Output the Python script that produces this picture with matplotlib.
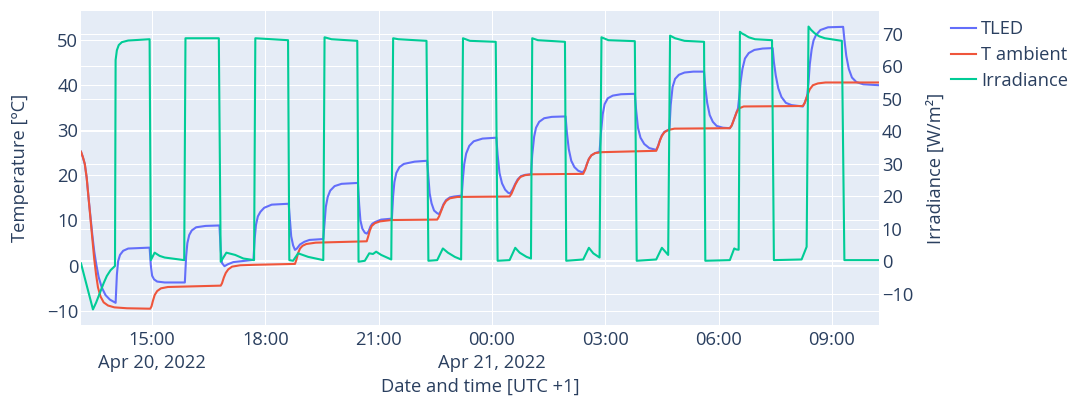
import matplotlib
matplotlib.use("Agg")
import matplotlib.pyplot as plt
import matplotlib.dates as mdates
from matplotlib.ticker import FuncFormatter
import pandas as pd

# ---------------------------------------------------------------- data
D1, D2 = "2022-04-20 ", "2022-04-21 "

tled_time = [D1 + t for t in [
    "13:07", "13:10", "13:13", "13:16", "13:19", "13:22",
    "13:25", "13:28", "13:31", "13:35", "13:40", "13:46",
    "13:53", "14:02", "14:04", "14:06", "14:09", "14:14",
    "14:22", "14:56", "14:58", "15:00", "15:03", "15:08",
    "15:20", "15:52", "15:54", "15:56", "15:59", "16:03",
    "16:10", "16:25", "16:47", "16:49", "16:51", "16:55",
    "17:00", "17:09", "17:41", "17:43", "17:45", "17:48",
    "17:52", "17:58", "18:10", "18:37", "18:39", "18:41",
    "18:44", "18:47", "18:50", "18:55", "19:02", "19:10",
    "19:32", "19:34", "19:36", "19:39", "19:43", "19:50",
    "20:01", "20:27", "20:29", "20:31", "20:34", "20:38",
    "20:41", "20:44", "20:47", "20:50", "20:55", "21:04",
    "21:21", "21:23", "21:25", "21:28", "21:33", "21:40",
    "21:57", "22:17", "22:19", "22:21", "22:24", "22:28",
    "22:33", "22:36", "22:39", "22:43", "22:47", "22:53",
    "23:00", "23:12", "23:14", "23:16", "23:19", "23:24",
    "23:31", "23:45"]] + [D2 + t for t in [
    "00:07", "00:09", "00:12", "00:16",
    "00:21", "00:26", "00:29", "00:33", "00:37", "00:41",
    "00:46", "00:53", "01:02", "01:04", "01:07", "01:10",
    "01:15", "01:23", "01:35", "01:57", "01:59", "02:02",
    "02:06", "02:11", "02:17", "02:24", "02:28", "02:31",
    "02:34", "02:38", "02:44", "02:51", "02:53", "02:56",
    "02:59", "03:04", "03:12", "03:25", "03:47", "03:49",
    "03:52", "03:56", "04:02", "04:10", "04:21", "04:24",
    "04:27", "04:30", "04:34", "04:40", "04:42", "04:44",
    "04:47", "04:51", "04:57", "05:06", "05:20", "05:37",
    "05:39", "05:42", "05:46", "05:51", "05:57", "06:07",
    "06:18", "06:21", "06:25", "06:29", "06:31", "06:33",
    "06:35", "06:38", "06:42", "06:48", "06:57", "07:10",
    "07:26", "07:28", "07:31", "07:35", "07:40", "07:47",
    "07:56", "08:14", "08:17", "08:21", "08:23", "08:25",
    "08:28", "08:31", "08:35", "08:42", "08:54", "09:18",
    "09:20", "09:23", "09:27", "09:32", "09:39", "09:50",
    "10:15"]]
tled = [
    25.2, 24.0, 22.5, 19.5, 15.0, 10.8,
    6.8, 3.2, 0.5, -2.5, -4.8, -6.5,
    -7.5, -8.2, -2.0, 1.0, 2.4, 3.3,
    3.8, 4.0, 0.0, -2.2, -3.0, -3.5,
    -3.7, -3.7, 2.0, 5.0, 6.8, 7.8,
    8.5, 8.8, 8.9, 3.5, 0.6, -0.1,
    0.3, 0.8, 1.3, 6.0, 9.0, 10.9,
    11.9, 12.8, 13.5, 13.7, 10.0, 6.5,
    4.5, 3.5, 3.8, 4.7, 5.3, 5.7,
    5.9, 9.5, 13.0, 15.2, 16.6, 17.6,
    18.1, 18.3, 13.5, 10.0, 8.2, 7.3,
    7.1, 7.6, 8.7, 9.3, 9.7, 10.2,
    10.4, 15.5, 18.5, 20.5, 21.8, 22.5,
    23.0, 23.2, 19.5, 16.0, 13.8, 12.2,
    11.6, 11.4, 12.2, 13.6, 14.5, 15.1,
    15.3, 15.5, 19.5, 22.5, 24.8, 26.5,
    27.5, 28.1, 28.3, 24.5, 20.5, 18.2,
    16.8, 16.1, 16.0, 16.9, 18.1, 19.1,
    19.8, 20.1, 20.2, 24.5, 28.5, 30.5,
    31.8, 32.6, 32.9, 33.0, 29.5, 25.8,
    23.2, 21.8, 21.0, 20.6, 21.3, 22.5,
    23.6, 24.4, 24.9, 25.2, 29.0, 33.5,
    35.7, 37.0, 37.6, 37.9, 38.0, 34.5,
    30.5, 28.3, 26.9, 26.0, 25.6, 26.5,
    27.8, 28.8, 29.6, 30.0, 30.2, 35.5,
    39.5, 41.3, 42.2, 42.7, 42.9, 42.9,
    39.5, 36.0, 33.3, 31.8, 30.9, 30.5,
    30.4, 31.0, 32.5, 34.0, 34.8, 37.5,
    40.5, 43.5, 45.8, 47.0, 47.7, 48.0,
    48.1, 45.0, 42.0, 39.2, 37.3, 36.0,
    35.5, 35.2, 36.0, 37.6, 40.5, 44.5,
    47.8, 49.8, 51.0, 52.1, 52.7, 52.8,
    50.0, 46.4, 43.5, 41.6, 40.6, 40.1,
    39.9,
]

ambient_time = [D1 + t for t in [
    "13:07", "13:10", "13:13", "13:16", "13:19", "13:22",
    "13:25", "13:28", "13:31", "13:34", "13:38", "13:43",
    "13:50", "14:00", "14:20", "14:57", "14:59", "15:01",
    "15:04", "15:08", "15:14", "15:25", "16:49", "16:51",
    "16:54", "16:57", "17:01", "17:07", "17:20", "17:41",
    "18:47", "18:49", "18:52", "18:55", "18:59", "19:05",
    "19:20", "20:41", "20:43", "20:46", "20:49", "20:54",
    "21:02", "21:20", "22:33", "22:36", "22:39", "22:43",
    "22:47", "22:53", "23:05"]] + [D2 + t for t in [
    "00:28", "00:31", "00:34",
    "00:37", "00:41", "00:45", "00:52", "01:03", "02:25",
    "02:28", "02:31", "02:34", "02:38", "02:44", "02:55",
    "04:21", "04:24", "04:27", "04:30", "04:34", "04:40",
    "04:50", "06:18", "06:21", "06:25", "06:29", "06:33",
    "06:40", "08:14", "08:17", "08:21", "08:25", "08:30",
    "08:38", "08:50", "10:15"]]
ambient = [
    25.2, 24.0, 22.5, 19.5, 15.0, 10.5,
    6.0, 1.5, -2.0, -4.8, -6.8, -8.1,
    -8.8, -9.2, -9.4, -9.5, -9.0, -7.9,
    -6.5, -5.6, -5.0, -4.7, -4.4, -3.9,
    -2.6, -1.6, -0.8, -0.2, 0.1, 0.2,
    0.4, 1.2, 2.8, 3.8, 4.4, 4.8,
    5.1, 5.4, 6.3, 7.8, 8.8, 9.4,
    9.8, 10.1, 10.2, 10.9, 12.0, 13.4,
    14.3, 14.9, 15.2, 15.3, 15.9, 16.9,
    17.9, 18.9, 19.6, 20.0, 20.2, 20.3,
    21.2, 22.5, 23.6, 24.4, 24.9, 25.1,
    25.4, 26.4, 27.7, 28.7, 29.5, 30.0,
    30.3, 30.4, 31.0, 32.5, 34.0, 34.8,
    35.2, 35.3, 36.0, 37.6, 39.0, 39.9,
    40.3, 40.5, 40.5,
]

irr_time = [D1 + t for t in [
    "13:07", "13:26", "13:31", "13:37", "13:43", "13:48",
    "13:54", "14:01", "14:02", "14:04", "14:07", "14:12",
    "14:22", "14:56", "14:58", "15:04", "15:12", "15:20",
    "15:51", "15:53", "16:46", "16:49", "16:58", "17:12",
    "17:25", "17:42", "17:44", "18:36", "18:38", "18:44",
    "18:52", "19:08", "19:32", "19:34", "19:45", "20:26",
    "20:28", "20:38", "20:45", "20:51", "20:56", "21:04",
    "21:20", "21:23", "21:31", "22:16", "22:19", "22:33",
    "22:42", "22:50", "23:01", "23:11", "23:14", "23:25"]] + [D2 + t for t in [
    "00:06", "00:09", "00:28", "00:37", "00:44", "00:55",
    "01:02", "01:04", "01:13", "01:56", "01:58", "02:25",
    "02:34", "02:41", "02:51", "02:54", "03:05", "03:47",
    "03:50", "04:21", "04:30", "04:40", "04:43", "04:51",
    "05:06", "05:37", "05:39", "06:18", "06:25", "06:28",
    "06:32", "06:34", "06:37", "06:42", "06:48", "06:58",
    "07:25", "07:28", "08:12", "08:20", "08:23", "08:27",
    "08:33", "08:40", "08:49", "09:16", "09:20", "10:15"]]
irradiance = [
    -0.7, -14.9, -12.8, -9.8, -6.8, -4.6,
    -2.8, -1.5, 62.0, 65.0, 66.6, 67.5,
    68.0, 68.4, 0.3, 2.6, 1.6, 1.1,
    0.3, 68.7, 68.7, -0.2, 2.6, 1.9,
    0.8, 0.3, 68.7, 68.1, 0.3, 0.1,
    2.4, 1.3, 0.3, 69.0, 68.4, 67.9,
    -0.2, 0.1, 2.4, 2.2, 2.9, 1.9,
    0.5, 68.7, 68.4, 67.9, 0.1, 0.3,
    3.9, 2.6, 1.3, 0.5, 68.7, 67.9,
    67.6, 0.1, 0.3, 4.1, 2.6, 1.3,
    0.8, 68.7, 68.1, 67.6, 0.1, 0.5,
    4.1, 2.4, 1.1, 69.0, 68.1, 67.8,
    0.1, 0.5, 4.1, 1.9, 69.5, 68.7,
    67.9, 67.6, 0.1, 0.3, 3.9, 3.6,
    3.5, 70.7, 70.2, 69.7, 69.0, 68.4,
    68.1, 0.3, 0.5, 4.4, 72.3, 71.3,
    70.2, 69.3, 68.7, 67.9, 0.3, 0.3,
]

temp_ticks = [-10, 0, 10, 20, 30, 40, 50]
irr_ticks = [-10, 0, 10, 20, 30, 40, 50, 60, 70]

# ---------------------------------------------------------------- style
FONT = "Open Sans"
INK = "#2a3f5f"
FS = 13.2
plt.rcParams["font.family"] = [FONT, "DejaVu Sans"]

W, H = 1069, 396
fig = plt.figure(figsize=(W / 100, H / 100), dpi=100)
L, R, T, B = 81, 879, 11, 325
ax = fig.add_axes([L / W, 1 - B / H, (R - L) / W, (B - T) / H])
ax.set_facecolor("#E5ECF6")
for s in ax.spines.values():
    s.set_visible(False)

t_led = pd.to_datetime(tled_time)
t_amb = pd.to_datetime(ambient_time)
t_irr = pd.to_datetime(irr_time)

temp_lim = (-13.1, 56.3)
irr_lim = (-19.7, 77.1)
ax.set_ylim(*temp_lim)
ax.set_xlim(t_led[0], t_led[-1])

# gridlines for both y axes live on the lower axes, beneath every trace
for v in temp_ticks:
    ax.axhline(v, color="white", lw=1.44 if v == 0 else 0.75, zorder=1)
span_t = temp_lim[1] - temp_lim[0]
span_i = irr_lim[1] - irr_lim[0]
for v in irr_ticks:
    y = temp_lim[0] + (v - irr_lim[0]) * span_t / span_i
    ax.axhline(y, color="white", lw=1.44 if v == 0 else 0.75, zorder=1)

ax.xaxis.set_major_locator(mdates.HourLocator(byhour=range(0, 24, 3)))
ax.grid(axis="x", color="white", lw=0.75, zorder=1)
ax.set_axisbelow(True)


def fmt_time(x, pos=None):
    d = mdates.num2date(x)
    first = x - 3 / 24 < ax.get_xlim()[0]
    s = d.strftime("%H:%M")
    if d.hour == 0 or first:
        s += "\n" + f"{d:%b} {d.day}, {d.year}"
    return s


ax.xaxis.set_major_formatter(FuncFormatter(fmt_time))

l1, = ax.plot(t_led, tled, color="#636EFA", lw=1.5, zorder=3, label="TLED")
l2, = ax.plot(t_amb, ambient, color="#EF553B", lw=1.5, zorder=3, label="T ambient")

ax2 = ax.twinx()
ax2.set_ylim(*irr_lim)
for s in ax2.spines.values():
    s.set_visible(False)
l3, = ax2.plot(t_irr, irradiance, color="#00CC96", lw=1.5, zorder=3, label="Irradiance")

ax.set_yticks(temp_ticks)
ax2.set_yticks(irr_ticks)
for a in (ax, ax2):
    a.tick_params(axis="both", length=0, labelsize=FS, labelcolor=INK, pad=2)
ax.tick_params(axis="x", pad=4)

fig.text(20 / W, 1 - 168 / H, "Temperature [ºC]", rotation=90, ha="center",
         va="center", fontsize=FS, color=INK)
fig.text(936 / W, 1 - 168 / H, "Irradiance [W/m²]", rotation=90, ha="center",
         va="center", fontsize=FS, color=INK)
fig.text(480 / W, 1 - 387 / H, "Date and time [UTC +1]", ha="center",
         va="center", fontsize=FS, color=INK)

fig.legend(handles=[l1, l2, l3], loc="upper left",
           bbox_to_anchor=(951 / W, 1 - 20.5 / H), frameon=False, fontsize=FS,
           handlelength=1.37, handletextpad=0.27, labelspacing=0.41,
           borderpad=0, borderaxespad=0, labelcolor=INK)

fig.canvas.draw()
for lbl in ax.get_xticklabels():
    lbl.set_linespacing(1.4)

fig.savefig("out.png", dpi=100)
